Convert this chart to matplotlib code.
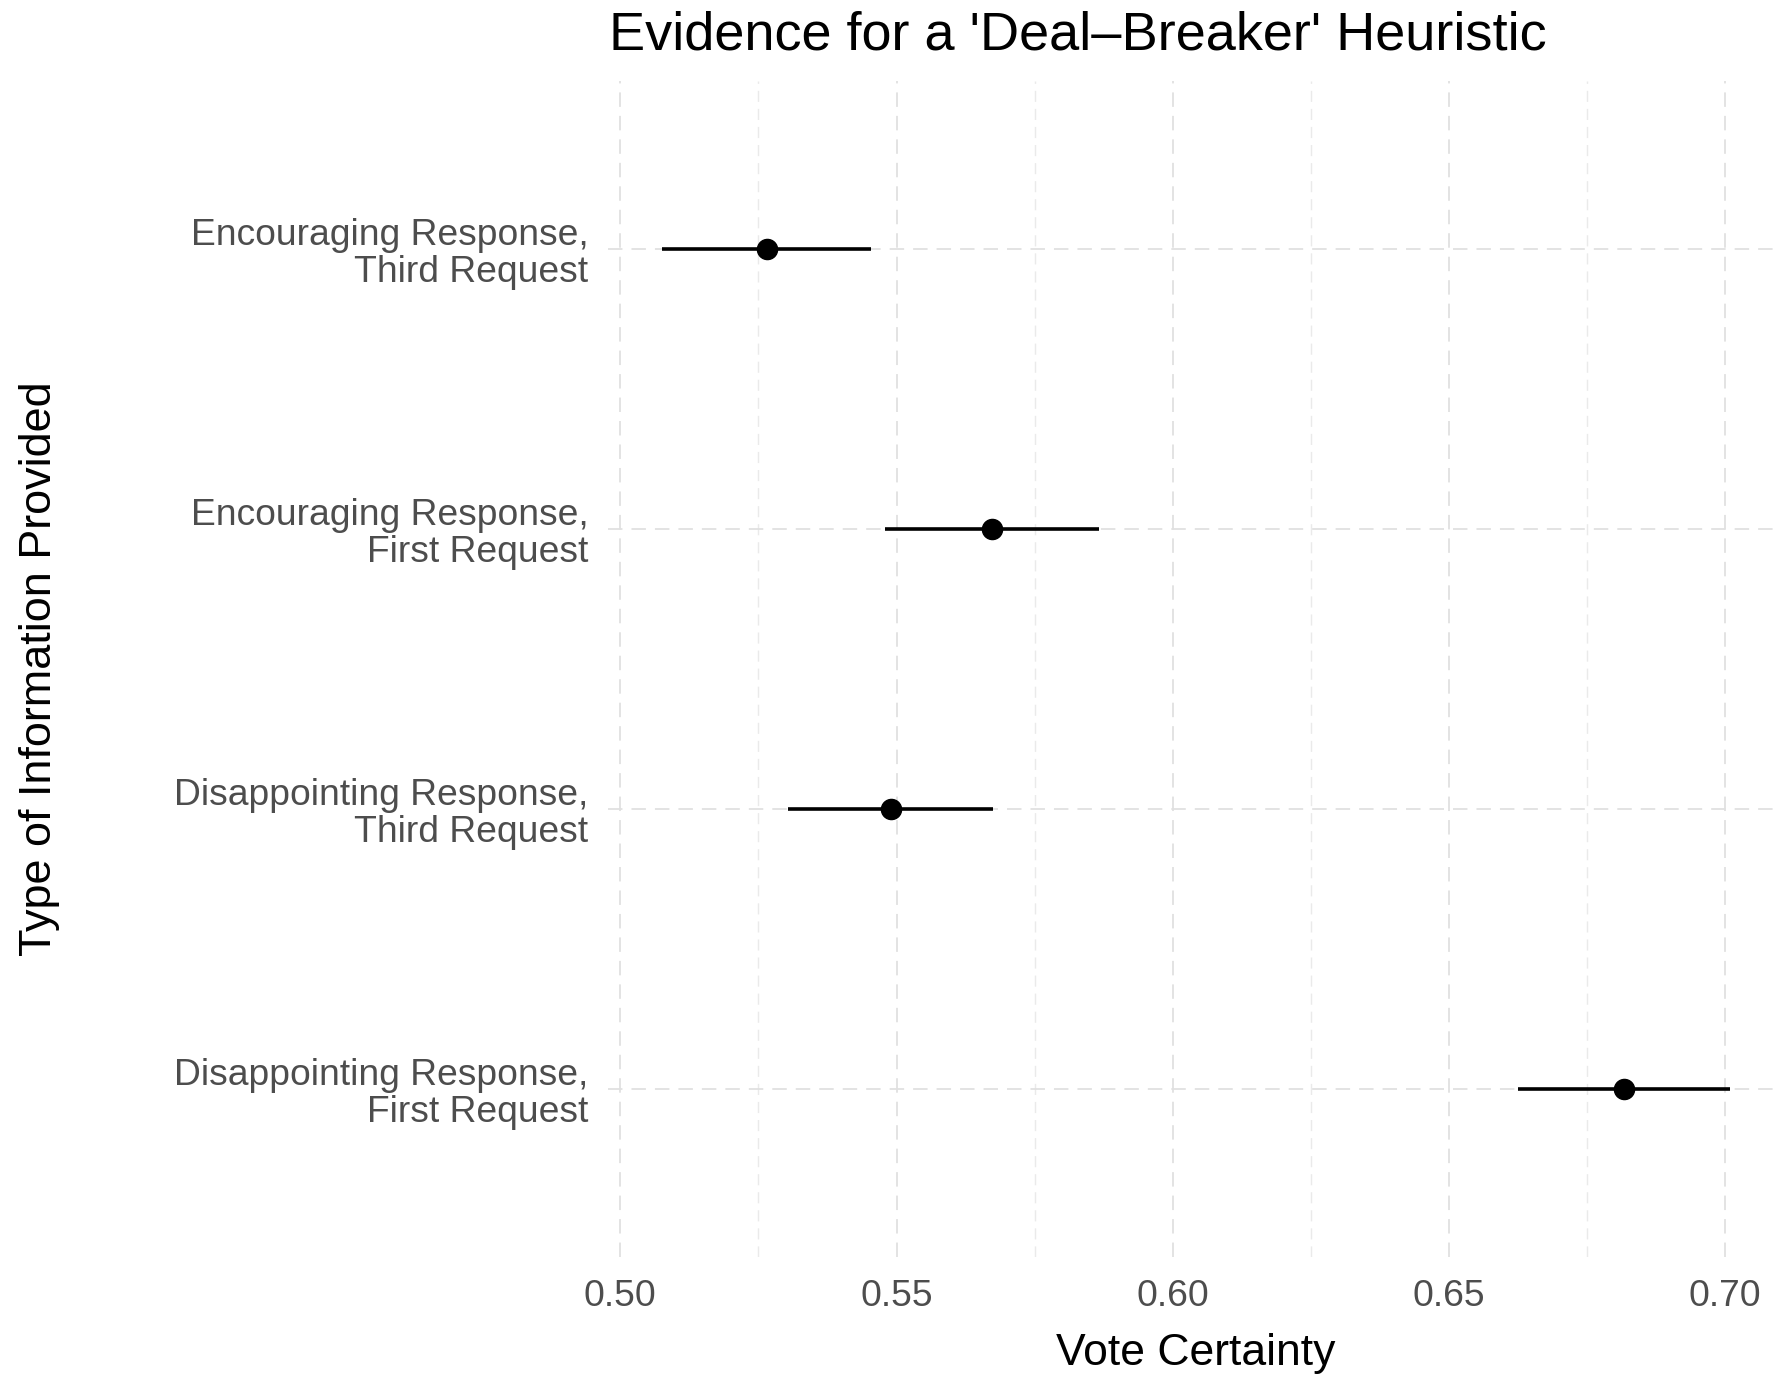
import matplotlib
matplotlib.use("Agg")
import matplotlib.pyplot as plt
from matplotlib.ticker import MultipleLocator

plt.rcParams["font.family"] = ["Liberation Sans", "DejaVu Sans"]

# Conditions, listed top to bottom
categories = [
    "Encouraging Response,\nThird Request",
    "Encouraging Response,\nFirst Request",
    "Disappointing Response,\nThird Request",
    "Disappointing Response,\nFirst Request",
]
estimates = [0.5265, 0.5672, 0.5490, 0.6817]
lower = [0.5075, 0.5479, 0.5304, 0.6625]
upper = [0.5453, 0.5866, 0.5675, 0.7008]
x_ticks = [0.50, 0.55, 0.60, 0.65, 0.70]
x_tick_labels = ["0.50", "0.55", "0.60", "0.65", "0.70"]

W, H = 1775, 1377
fig = plt.figure(figsize=(W / 100, H / 100), dpi=100)
fig.patch.set_facecolor("white")

left_px, right_px, top_px, bottom_px = 608, 1775, 81, 1257
ax = fig.add_axes([left_px / W, 1 - bottom_px / H,
                   (right_px - left_px) / W, (bottom_px - top_px) / H])

n = len(categories)
ypos = list(range(n, 0, -1))

ax.set_xlim(0.49776, 0.7090)
ax.set_ylim(0.4, n + 0.6)

ax.xaxis.set_major_locator(MultipleLocator(0.05))
ax.xaxis.set_minor_locator(MultipleLocator(0.025))
ax.grid(True, which="major", axis="both", color="#e0e0e0", linewidth=1.3,
        linestyle=(0, (8, 5)), zorder=0)
ax.grid(True, which="minor", axis="x", color="#eaeaea", linewidth=1.0,
        linestyle=(0, (8, 5)), zorder=0)
ax.set_axisbelow(True)

# Confidence intervals and point estimates
ax.hlines(ypos, lower, upper, color="black", linewidth=2.6, zorder=3)
ax.plot(estimates, ypos, "o", color="black", markersize=14.5, zorder=4)

ax.set_xticks(x_ticks)
ax.set_xticklabels(x_tick_labels)
ax.set_yticks(ypos)
ax.set_yticklabels(categories, ha="right", linespacing=1.06)
ax.tick_params(axis="both", which="both", length=0, colors="#4d4d4d",
               labelsize=26.8)
ax.tick_params(axis="x", pad=16)
ax.tick_params(axis="y", pad=14)
for s in ax.spines.values():
    s.set_visible(False)

fig.text(609 / W, 1 - 36 / H, "Evidence for a 'Deal\u2013Breaker' Heuristic",
         ha="left", va="center", fontsize=39, color="black")
fig.text(1196 / W, 1 - 1353 / H, "Vote Certainty", ha="center", va="center",
         fontsize=32, color="black")
fig.text(40 / W, 1 - 669 / H, "Type of Information Provided", ha="center",
         va="center", rotation=90, fontsize=32.4, color="black")

fig.savefig("out.png", dpi=100, facecolor="white")
